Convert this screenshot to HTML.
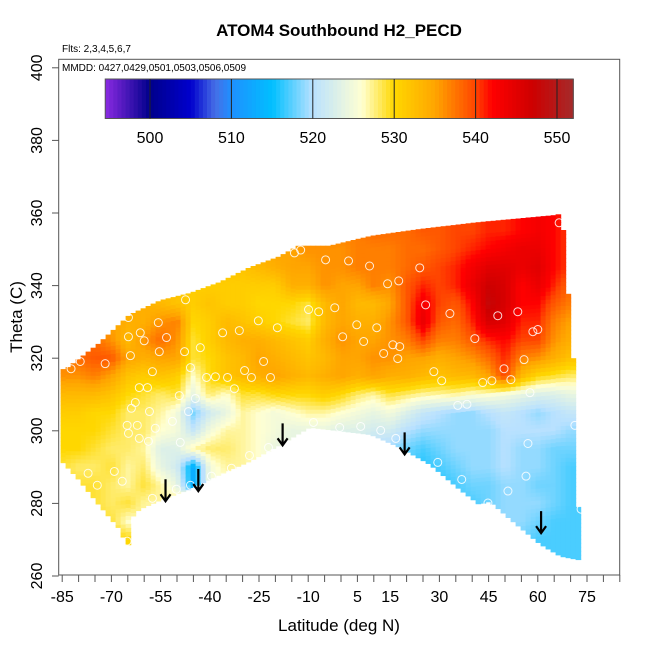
<!DOCTYPE html>
<html><head><meta charset="utf-8"><style>
html,body{margin:0;padding:0;background:#fff;}
svg text{font-family:"Liberation Sans",Arial,sans-serif;}
</style></head><body>
<svg id="chart" width="650" height="650" xmlns="http://www.w3.org/2000/svg">
<rect width="650" height="650" fill="#fff"/>
<g id="heat"></g>
<g id="pts"></g>
<g id="arrows"></g>
<g id="cbar"></g>
<rect x="58.7" y="59.3" width="561" height="515.7" fill="none" stroke="#555" stroke-width="1"/>
<g id="axes"></g>
<text x="339" y="36" font-size="17" font-weight="bold" text-anchor="middle">ATOM4 Southbound H2_PECD</text>
<text x="62" y="52" font-size="10">Flts: 2,3,4,5,6,7</text>
<text x="62" y="71" font-size="10">MMDD: 0427,0429,0501,0503,0506,0509</text>
<text x="339" y="631" font-size="17" text-anchor="middle">Latitude (deg N)</text>
<text x="0" y="0" font-size="17" text-anchor="middle" transform="translate(22,317) rotate(-90)">Theta (C)</text>
</svg>
<script>
// ---- data ----
const lats = [-85,-80,-75,-70,-65,-60,-55,-50,-45,-40,-35,-30,-25,-20,-15,-10,-5,0,5,10,15,20,25,30,35,40,45,50,55,60,65,70];
const thetas = [360,355,350,345,340,335,330,325,320,315,310,305,300,295,290,285,280,275,270,265];
const grid = [
[533,533,533,533,533,533,533,533,533,533,534,534,535,535,536,536,537,537,537,538,538,538,539,539,540,540,541,541,542,543,542,540],
[533,533,533,533,533,533,533,533,533,533,534,534,535,535,536,536,537,537,537,538,538,538,539,539,540,540,541,541,542,543,542,540],
[532,532,532,532,532,532,532,532,532,532,533,533,534,535,535,536,536,536,537,537,537,538,538,539,540,541,542,543,544,544,542,540],
[532,532,532,532,532,532,532,532,532,532,532,532,533,534,535,535,536,536,537,537,537,538,539,540,541,543,545,545,544,545,542,540],
[533,533,533,533,533,533,533,532,531,531,531,531,531,531,534,534,536,535,535,537,536,539,541,540,541,544,547,546,542,544,541,538],
[534,534,534,534,534,534,533,532,531,532,531,531,530,530,530,529,533,535,533,533,535,539,543,540,539,542,548,546,542,542,539,537],
[536,536,536,535,534,534,536,537,530,531,533,532,531,530,529,528,533,535,534,534,536,539,544,539,538,541,546,545,541,541,537,535],
[537,537,538,536,533,536,538,536,529,531,533,534,534,533,532,531,534,536,535,535,536,537,540,537,537,539,541,542,540,540,536,534],
[537,538,539,539,535,534,535,535,529,530,532,533,535,534,533,532,533,535,535,536,536,535,535,534,535,536,538,541,537,536,534,532],
[536,536,537,535,532,531,532,531,526,530,532,533,534,535,534,533,534,535,534,535,534,534,533,532,533,533,535,540,533,530,529,528],
[533,533,533,532,530,529,528,529,524,528,526,529,529,530,530,530,531,530,528,527,529,528,527,527,527,526,526,525,524,523,523,524],
[531,531,530,530,528,528,527,525,518,522,524,527,526,525,526,527,527,526,525,524,525,523,521,520,519,519,520,521,520,519,520,521],
[530,530,530,529,528,528,526,525,521,525,527,527,526,525,524,524,524,523,523,522,522,520,519,519,519,519,519,520,520,520,520,519],
[530,530,529,528,528,527,523,523,527,528,528,527,526,524,524,524,523,523,522,520,519,518,517,518,519,519,519,520,519,519,518,518],
[529,528,528,529,527,528,524,522,513,525,527,527,526,525,524,523,522,521,520,519,518,517,516,517,518,519,519,520,519,519,518,517],
[529,529,529,528,527,529,527,524,513,525,526,526,525,524,523,522,521,520,519,518,517,517,516,516,517,518,518,519,519,518,518,517],
[529,529,529,528,529,527,527,528,527,527,526,525,524,523,522,521,520,519,518,517,517,517,516,516,517,517,518,519,519,519,518,517],
[529,529,529,529,526,527,527,527,527,527,526,525,524,523,522,521,520,519,518,517,517,517,516,516,517,518,518,519,519,518,517,517],
[530,530,530,530,530,528,528,527,527,527,526,525,524,523,522,521,520,519,518,517,517,517,517,517,517,518,518,518,518,517,517,517],
[530,530,530,530,530,528,528,527,527,527,526,525,524,523,522,521,520,519,518,517,517,517,517,517,517,518,518,518,518,517,517,517]
];
const topLat = [-85.5,-84,-74,-64.5,-55,-46,-37,-28,-19,-13,-3.5,9,24,42,66,67.3,68.5,70,71.5,72.5];
const topTheta = [317,317,324,332,336,338,341,345,348,351,351,353.7,355.6,357.5,359.5,360.5,345,330,310,270];
const botLat = [-85.5,-80,-74,-67.6,-65,-64,-61.5,-55,-46,-37,-28,-19,-9.6,-0.4,9,18,27,36,42,45.4,51.5,60.7,66.8,72.5];
const botTheta = [292,286.6,279.8,273,268,276,278.4,281,284,288,291.6,296,301,300,299,295.4,290.8,284,279.8,280.6,275.7,268.8,265.5,264.5];
const ptLat = [-71.9,-64.8,-61.2,-60.0,-55.7,-53.2,-55.4,-47.7,-47.4,-64.8,-64.2,-57.5,-61.5,-59.0,-62.7,-63.9,-58.4,-62.1,-65.2,-64.8,-61.5,-56.6,-58.7,-49.3,-46.5,-44.4,-45.9,-42.9,-36.1,-31.0,-25.2,-19.4,-23.6,-29.4,-34.6,-21.5,-27.3,-32.5,-14.2,-12.3,-4.7,2.3,8.7,24.0,14.2,17.6,-9.9,-6.8,-1.9,4.8,10.9,0.5,6.9,15.8,17.9,13.0,17.3,25.8,33.2,40.8,47.8,53.9,58.5,60.0,55.8,49.7,51.8,46.0,43.2,28.3,30.7,57.6,35.6,38.4,71.3,57.0,73.5,56.4,50.9,44.8,36.8,29.5,66.5,73.2,73.5,-8.4,-0.4,6.0,12.1,16.7,-22.1,-27.9,-33.4,-39.5,-45.9,-50.2,-57.5,-60.0,-62.7,-65.2,-66.7,-69.1,-74.3,-77.1,-79.5,-82.3,-49.0,-51.4,-38.3,-41.0];
const ptTheta = [318.5,325.9,327.0,324.8,329.8,325.7,321.8,321.8,336.1,331.2,320.7,316.3,311.9,311.9,307.8,306.2,305.3,301.5,301.5,299.3,297.9,300.7,297.1,309.7,305.3,308.9,317.4,322.9,327.0,327.6,330.3,328.4,319.1,316.6,314.7,314.7,314.7,311.6,349.0,349.8,347.1,346.8,345.4,344.9,340.5,341.3,333.4,332.8,333.9,329.2,328.4,325.9,324.6,323.7,323.2,321.3,319.9,334.7,332.3,325.4,331.7,332.8,327.3,327.9,319.6,317.1,314.1,313.8,313.3,316.3,313.8,310.5,307.0,307.3,301.5,296.5,291.3,287.5,283.4,280.1,286.6,291.3,357.3,278.4,285.8,302.3,300.9,301.2,300.1,297.9,295.4,293.2,289.7,287.5,285.0,283.9,281.4,276.8,275.1,269.6,286.1,288.8,285.0,288.3,319.1,317.1,296.8,302.6,314.9,314.7];
const arrowLat = [-53.5,-43.5,-17.8,19.4,61.0];
const arrowTheta = [280.6,283.4,296.0,293.5,271.8];
const xTickLabels = [-85,-70,-55,-40,-25,-10,5,15,30,45,60,75];
const yTickLabels = [260,280,300,320,340,360,380,400];
const cbarTicks = [500,510,520,530,540,550];
const cStops = [[494.5,[138,43,226]],[500,[0,0,139]],[505,[0,0,205]],[508,[70,110,230]],[510,[30,144,255]],[515,[0,191,255]],[520,[185,225,255]],[526,[255,255,210]],[530,[255,215,0]],[535,[255,165,0]],[540,[255,69,0]],[542,[255,0,0]],[547,[205,0,0]],[552,[165,42,42]]];

// ---- scales ----
const NS='http://www.w3.org/2000/svg';
function X(lat){return 587+(lat-75)*3.28;}
function Y(th){return 576-(th-260)*3.63;}
function interp1(xs,ys,x){
  if(x<=xs[0])return ys[0]; if(x>=xs[xs.length-1])return ys[ys.length-1];
  for(let i=0;i<xs.length-1;i++){if(x>=xs[i]&&x<=xs[i+1]){const t=(x-xs[i])/(xs[i+1]-xs[i]);return ys[i]+t*(ys[i+1]-ys[i]);}}
}
function color(v){
  if(v<=cStops[0][0])return 'rgb('+cStops[0][1].join(',')+')';
  for(let i=0;i<cStops.length-1;i++){const a=cStops[i],b=cStops[i+1];
    if(v<=b[0]){const t=(v-a[0])/(b[0]-a[0]);return 'rgb('+a[1].map((c,k)=>Math.round(c+t*(b[1][k]-c))).join(',')+')';}}
  return 'rgb('+cStops[cStops.length-1][1].join(',')+')';
}
function valueAt(lat,th){
  let fi=(lat-lats[0])/5; fi=Math.max(0,Math.min(lats.length-1.0001,fi));
  let fj=(thetas[0]-th)/5; fj=Math.max(0,Math.min(thetas.length-1.0001,fj));
  const i=Math.floor(fi),j=Math.floor(fj),u=fi-i,w=fj-j;
  const a=grid[j][i],b=grid[j][i+1],c=grid[j+1][i],d=grid[j+1][i+1];
  return (a*(1-u)+b*u)*(1-w)+(c*(1-u)+d*u)*w;
}
// ---- heatmap ----
const heat=document.getElementById('heat');
const cw=5,ch=4;
for(let px=X(-85.5);px<X(72.6);px+=cw){
  const lat=75+(px+cw/2-587)/3.28;
  const tTop=interp1(topLat,topTheta,lat), tBot=interp1(botLat,botTheta,lat);
  for(let py=Y(tTop);py<Y(tBot);py+=ch){
    const th=260+(576-(py+ch/2))/3.63;
    const r=document.createElementNS(NS,'rect');
    
    
    r.setAttribute('x',px.toFixed(1));r.setAttribute('y',py.toFixed(1));
    r.setAttribute('width',cw+0.6);r.setAttribute('height',Math.min(ch,Y(tBot)-py)+0.6);
    r.setAttribute('fill',color(valueAt(lat,th)));
    heat.appendChild(r);
  }
}
// ---- points ----
const pts=document.getElementById('pts');
for(let k=0;k<ptLat.length;k++){
  const c=document.createElementNS(NS,'circle');
  
  
  c.setAttribute('cx',X(ptLat[k]));c.setAttribute('cy',Y(ptTheta[k]));c.setAttribute('r',4);
  c.setAttribute('fill','none');c.setAttribute('stroke','rgba(255,255,255,0.85)');c.setAttribute('stroke-width',1);
  pts.appendChild(c);
}
// ---- arrows ----
const arr=document.getElementById('arrows');
for(let k=0;k<arrowLat.length;k++){
  const x=X(arrowLat[k]),y=Y(arrowTheta[k]);
  const p=document.createElementNS(NS,'path');
  
  
  p.setAttribute('d','M'+x+' '+(y-22)+' L'+x+' '+y+' M'+(x-5)+' '+(y-7)+' L'+x+' '+y+' L'+(x+5)+' '+(y-7));
  p.setAttribute('stroke','#000');p.setAttribute('stroke-width',2.2);p.setAttribute('fill','none');
  arr.appendChild(p);
}
// ---- colorbar ----
const cb=document.getElementById('cbar');
function CX(v){return 150+(v-500)*8.14;}
for(let v=494.5;v<552;v+=0.5){
  const r=document.createElementNS(NS,'rect');
  
  
  r.setAttribute('x',CX(v));r.setAttribute('y',79);r.setAttribute('width',4.6);r.setAttribute('height',39.5);
  r.setAttribute('fill',color(v+0.25));cb.appendChild(r);
}
const cbf=document.createElementNS(NS,'rect');


cbf.setAttribute('x',CX(494.5));cbf.setAttribute('y',79);cbf.setAttribute('width',CX(552)-CX(494.5));cbf.setAttribute('height',39.5);
cbf.setAttribute('fill','none');cbf.setAttribute('stroke','#555');cb.appendChild(cbf);
cbarTicks.forEach(v=>{
  const l=document.createElementNS(NS,'line');
  
  
  l.setAttribute('x1',CX(v));l.setAttribute('x2',CX(v));l.setAttribute('y1',79);l.setAttribute('y2',118.5);
  l.setAttribute('stroke','#222');cb.appendChild(l);
  const t=document.createElementNS(NS,'text');
  
  
  t.setAttribute('x',CX(v));t.setAttribute('y',143);t.setAttribute('font-size',16);t.setAttribute('text-anchor','middle');
  t.textContent=v;cb.appendChild(t);
});
// ---- axes ----
const ax=document.getElementById('axes');
for(let v=-85;v<=85;v+=5){
  const l=document.createElementNS(NS,'line');
  
  
  l.setAttribute('x1',X(v));l.setAttribute('x2',X(v));l.setAttribute('y1',575);l.setAttribute('y2',582);
  l.setAttribute('stroke','#555');ax.appendChild(l);
}
xTickLabels.forEach(v=>{
  const t=document.createElementNS(NS,'text');
  
  
  t.setAttribute('x',X(v));t.setAttribute('y',602);t.setAttribute('font-size',16);t.setAttribute('text-anchor','middle');
  t.textContent=v;ax.appendChild(t);
});
yTickLabels.forEach(v=>{
  const l=document.createElementNS(NS,'line');
  
  
  l.setAttribute('x1',52);l.setAttribute('x2',58.7);l.setAttribute('y1',Y(v));l.setAttribute('y2',Y(v));
  l.setAttribute('stroke','#555');ax.appendChild(l);
  const t=document.createElementNS(NS,'text');
  
  
  t.setAttribute('x',0);t.setAttribute('y',0);t.setAttribute('font-size',16);t.setAttribute('text-anchor','middle');
  t.setAttribute('transform','translate(42,'+Y(v)+') rotate(-90)');
  t.textContent=v;ax.appendChild(t);
});
</script>
</body></html>
